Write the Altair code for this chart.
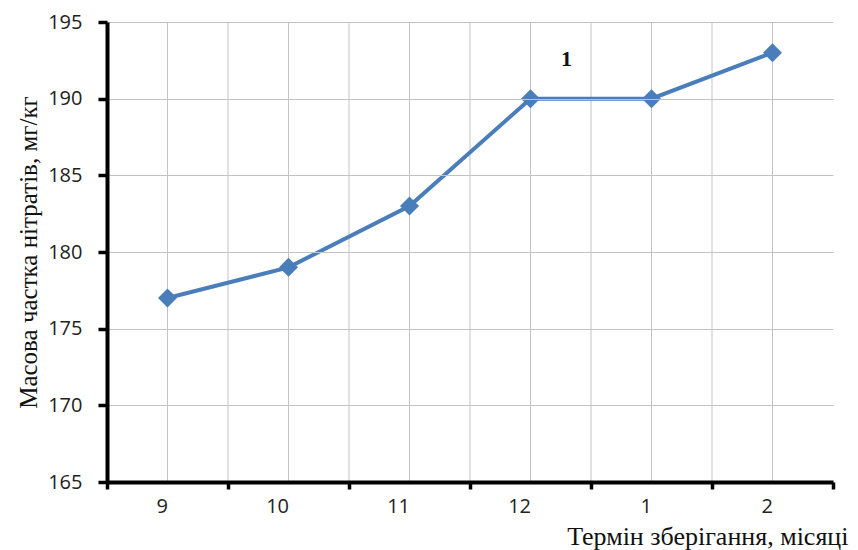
import altair as alt
import pandas as pd

months = ["9", "10", "11", "12", "1", "2"]
nitrates = [177, 179, 183, 190, 190, 193]
y_ticks = [165, 170, 175, 180, 185, 190, 195]

df = pd.DataFrame({"month": months, "value": nitrates})

xscale = alt.Scale(domain=months, paddingInner=0, paddingOuter=0)
yscale = alt.Scale(domain=[165, 195], nice=False, zero=False)

grid_color = "#c3c3c3"
blue = "#4a7ebb"
tick_font = "Open Sans"
title_font = "Liberation Serif"

base = alt.Chart(df)

center_rules = base.mark_rule(color=grid_color, strokeWidth=1).encode(
    x=alt.X("month:O", scale=xscale, sort=months)
)
boundary_rules = base.mark_rule(color=grid_color, strokeWidth=1).encode(
    x=alt.X("month:O", scale=xscale, sort=months, bandPosition=0)
)

line = base.mark_line(color=blue, strokeWidth=4).encode(
    x=alt.X(
        "month:O",
        scale=xscale,
        sort=months,
        axis=alt.Axis(
            title="Термін зберігання, місяці",
            titleFont=title_font,
            titleFontSize=26,
            titleFontWeight="normal",
            titleColor="#111111",
            titleX=741,
            titleY=62,
            titleAlign="right",
            titleBaseline="alphabetic",
            labelAngle=0,
            labelFont=tick_font,
            labelFontSize=20,
            labelColor="#222222",
            labelPadding=17,
            tickBand="extent",
            tickSize=7,
            tickWidth=3.5,
            tickColor="black",
            domainColor="black",
            domainWidth=4,
            grid=False,
            zindex=1,
        ),
    ),
    y=alt.Y(
        "value:Q",
        scale=yscale,
        axis=alt.Axis(
            values=y_ticks,
            title="Масова частка нітратів, мг/кг",
            titleFont=title_font,
            titleFontSize=25,
            titleFontWeight="normal",
            titleColor="#111111",
            titleX=-79,
            titleY=230,
            titleAngle=270,
            titleAlign="center",
            titleBaseline="middle",
            labelFont=tick_font,
            labelFontSize=20,
            labelColor="#222222",
            labelPadding=16,
            tickSize=9,
            tickWidth=3.5,
            tickColor="black",
            domainColor="black",
            domainWidth=4,
            grid=True,
            gridColor=grid_color,
            gridWidth=1,
            zindex=1,
        ),
    ),
)

points = base.mark_point(
    shape="diamond", filled=True, color=blue, size=360, opacity=1
).encode(
    x=alt.X("month:O", scale=xscale, sort=months),
    y=alt.Y("value:Q", scale=yscale),
)

label = alt.Chart(pd.DataFrame({"t": ["1"]})).mark_text(
    font=title_font, fontSize=22, fontWeight="bold", color="#111111", dx=36
).encode(
    x=alt.datum("12", scale=xscale),
    y=alt.datum(192.6),
    text="t:N",
)

chart = (
    alt.layer(center_rules, boundary_rules, line, points, label)
    .properties(
        width=726,
        height=460,
        autosize=alt.AutoSizeParams(type="none"),
        padding={"left": 99, "top": 14, "right": 17, "bottom": 68},
    )
    .configure_view(stroke=None)
)

chart.save("out.html", embed_options={"renderer": "svg", "actions": False})
